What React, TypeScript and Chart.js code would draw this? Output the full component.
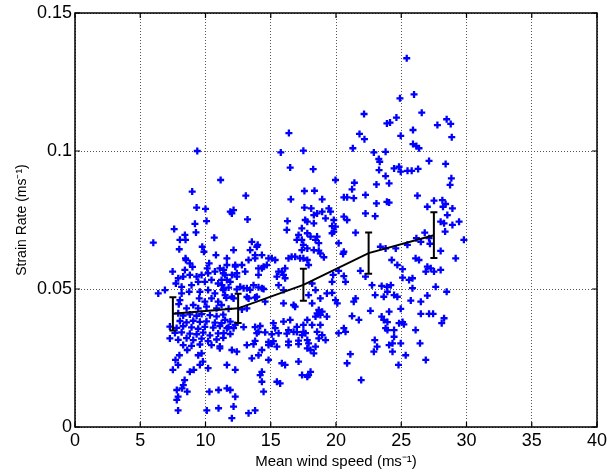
import React, { useEffect, useRef } from "react";
import { Chart, registerables } from "chart.js";

Chart.register(...registerables);

// Axis tick labels
const xTickLabels = ["0", "5", "10", "15", "20", "25", "30", "35", "40"];
const yTickLabels = ["0", "0.05", "0.1", "0.15"];

// Binned mean strain rate with error bars
const binCenters = [7.5, 12.5, 17.5, 22.5, 27.5];
const binMeans = [0.041, 0.043, 0.0515, 0.063, 0.0695];
const binErrors = [0.006, 0.0053, 0.0058, 0.0075, 0.0083];

// Individual samples: [mean wind speed, strain rate]
const samplesLow: [number, number][] = [
  [9.37, 0.1], [11.16, 0.0895], [8.98, 0.0853], [9.32, 0.0795], [10.0, 0.079], [9.19, 0.0736],
  [10.08, 0.0746], [7.6, 0.0717], [8.42, 0.0696], [9.27, 0.0705], [8.04, 0.0678], [8.47, 0.0678],
  [6.0, 0.0668], [10.67, 0.0686], [7.99, 0.0644], [9.75, 0.0653], [9.88, 0.0635], [8.47, 0.0611],
  [10.8, 0.0623], [8.5, 0.0605], [8.8, 0.0593], [9.0, 0.058], [10.28, 0.0593], [10.13, 0.0575],
  [8.42, 0.0569], [7.48, 0.0563], [7.91, 0.0539], [8.29, 0.0545], [8.8, 0.0551], [9.32, 0.0545],
  [9.7, 0.0551], [10.2, 0.0557], [10.72, 0.0563], [11.1, 0.0575], [11.36, 0.0557], [7.73, 0.052],
  [8.17, 0.0508], [8.93, 0.0514], [9.44, 0.0526], [9.95, 0.0526], [10.46, 0.0533], [10.97, 0.052],
  [11.23, 0.0533], [6.38, 0.0484], [6.89, 0.0496], [8.75, 0.049], [8.17, 0.0484], [9.57, 0.049],
  [10.2, 0.0496], [10.72, 0.0484], [11.36, 0.0496], [8.04, 0.046], [7.95, 0.0445], [9.52, 0.0466],
  [9.95, 0.0454], [10.46, 0.0466], [10.97, 0.0454], [9.06, 0.0442], [9.44, 0.043], [8.55, 0.043],
  [10.08, 0.0436], [10.85, 0.043], [11.23, 0.0442], [7.91, 0.0412],
  [8.29, 0.0404], [8.8, 0.0408], [9.32, 0.0403], [9.7, 0.0409], [10.34, 0.0405], [10.85, 0.0401], [11.36, 0.0407],
  [8.04, 0.0384], [8.55, 0.0379], [9.06, 0.0385], [9.57, 0.0381], [10.08, 0.0383], [10.72, 0.0378], [11.23, 0.0376],
  [7.27, 0.0364], [7.79, 0.0359], [8.29, 0.0365], [8.93, 0.0361], [9.44, 0.0356], [9.95, 0.0363], [10.59, 0.036], [11.1, 0.0366],
  [7.66, 0.0341], [8.17, 0.0343], [8.8, 0.0338], [9.32, 0.0336], [9.82, 0.0342], [10.34, 0.0332], [10.97, 0.0339],
  [7.27, 0.0321], [7.91, 0.0316], [8.55, 0.0322], [9.06, 0.0315], [9.7, 0.032], [10.2, 0.0311], [10.85, 0.0317], [11.36, 0.0323],
  [8.29, 0.0297], [8.93, 0.0294], [9.57, 0.0299], [10.46, 0.0297], [11.1, 0.0292],
  [8.6, 0.0279], [8.0, 0.026], [7.7, 0.0243], [7.9, 0.0225], [7.5, 0.0207], [8.8, 0.02],
  [9.1, 0.0207], [9.7, 0.0267], [9.8, 0.0237], [10.2, 0.0213], [8.4, 0.017], [8.3, 0.0152],
  [7.8, 0.0134], [8.2, 0.014], [8.6, 0.0128], [7.8, 0.0098], [7.9, 0.011], [10.3, 0.0128],
  [11.0, 0.0134], [11.0, 0.0068], [7.9, 0.006], [10.1, 0.006], [11.1, 0.0285], [9.44, 0.026],
  [9.57, 0.0225],
];

const samplesMid: [number, number][] = [
  [11.64, 0.0611], [12.28, 0.0587], [12.79, 0.0587], [13.3, 0.0605], [13.8, 0.0611], [14.32, 0.0575],
  [14.7, 0.0587], [14.06, 0.0551], [15.34, 0.0605], [15.85, 0.0563], [16.1, 0.0539], [16.36, 0.0611],
  [16.87, 0.0617], [17.5, 0.0611], [11.5, 0.0551], [11.9, 0.0526], [12.4, 0.0545], [12.66, 0.0508],
  [13.17, 0.0503], [13.68, 0.0514], [14.32, 0.0503], [15.6, 0.0514], [15.98, 0.0496], [11.5, 0.0478],
  [12.15, 0.0466], [13.3, 0.0466], [13.93, 0.0472], [14.57, 0.0454], [15.98, 0.0448], [16.87, 0.0436],
  [11.77, 0.0362], [12.15, 0.0358], [12.92, 0.0362], [13.8, 0.0362], [14.19, 0.0366], [15.2, 0.0376],
  [15.98, 0.0382], [16.49, 0.0388], [17.0, 0.0363], [17.5, 0.037], [11.39, 0.034], [11.9, 0.0337],
  [13.93, 0.034], [14.57, 0.0343], [15.08, 0.0336], [15.6, 0.034], [16.23, 0.0338], [17.0, 0.0344],
  [17.4, 0.0333], [13.17, 0.0297], [13.68, 0.03], [14.32, 0.0279], [14.83, 0.0297], [15.08, 0.0302],
  [15.47, 0.0291], [16.36, 0.0297], [17.13, 0.03], [12.02, 0.0279], [12.4, 0.0273], [11.64, 0.0225],
  [12.28, 0.0207], [13.55, 0.0249], [14.06, 0.026], [14.83, 0.0243], [15.85, 0.0231], [16.1, 0.0225],
  [17.13, 0.0237], [14.32, 0.02], [14.19, 0.0188], [15.47, 0.0164], [15.72, 0.0158], [14.32, 0.0164],
  [11.64, 0.014], [11.9, 0.0134], [12.28, 0.011], [14.45, 0.0128], [12.15, 0.0074], [13.3, 0.005],
  [13.8, 0.006], [12.02, 0.0032], [17.4, 0.0188],
  [16.23, 0.0714], [17.38, 0.072], [17.13, 0.0696], [17.38, 0.0678], [17.0, 0.0678], [17.5, 0.066],
  [17.38, 0.0641], [13.55, 0.0671], [13.93, 0.0653], [13.42, 0.0641], [12.15, 0.0641], [13.8, 0.0623],
  [14.32, 0.0623], [15.08, 0.0611], [11.64, 0.0587], [11.39, 0.0569], [12.02, 0.0551], [11.64, 0.0533],
  [11.26, 0.0514], [12.28, 0.0581], [13.04, 0.0563], [12.4, 0.0557], [14.06, 0.0575], [14.45, 0.0581],
  [15.6, 0.0563], [16.1, 0.0575], [15.98, 0.0551], [15.47, 0.0545],
  [11.39, 0.0501], [11.77, 0.0505], [12.4, 0.0499], [12.92, 0.0503], [13.42, 0.0497], [14.06, 0.0506], [14.45, 0.05],
  [11.6, 0.0468], [12.02, 0.0472], [13.17, 0.0471], [13.8, 0.0469], [16.75, 0.0442],
  [11.77, 0.0428], [12.79, 0.0426], [13.17, 0.043], [11.5, 0.0388], [11.9, 0.0382], [12.28, 0.037],
  [11.64, 0.0358], [14.06, 0.0345], [15.34, 0.0358], [16.36, 0.0351], [16.75, 0.0345], [17.5, 0.0345],
  [13.8, 0.0312], [14.83, 0.0308], [15.2, 0.0311], [16.36, 0.0309], [17.13, 0.0313],
  [15.77, 0.0995], [17.5, 0.1001], [16.49, 0.094], [17.58, 0.0855], [13.09, 0.0838], [16.54, 0.0825],
  [17.58, 0.0795], [11.9, 0.078], [12.15, 0.0786], [12.02, 0.0774], [13.22, 0.0752], [16.28, 0.0746],
  [17.64, 0.075], [14.0, 0.066], [14.83, 0.0611], [16.6, 0.0617], [17.25, 0.0611], [16.39, 0.1065],
];

const samplesHigh: [number, number][] = [
  [22.15, 0.1134], [23.9, 0.11], [21.8, 0.1062], [22.18, 0.1043], [21.29, 0.101], [22.9, 0.0995],
  [23.8, 0.0997], [23.28, 0.0971], [23.35, 0.0961], [18.25, 0.0934], [23.3, 0.0931], [23.8, 0.0909],
  [19.96, 0.0895], [21.41, 0.0885], [21.23, 0.0861], [23.1, 0.0879], [18.35, 0.0856], [20.6, 0.0832],
  [20.85, 0.0832], [21.36, 0.0829], [22.26, 0.0841], [18.94, 0.0825], [23.1, 0.081], [23.9, 0.0816],
  [18.1, 0.0792], [19.45, 0.0792], [18.55, 0.0774], [18.94, 0.078], [18.3, 0.0768], [19.58, 0.078],
  [20.6, 0.0762], [20.85, 0.075], [22.26, 0.0774], [23.0, 0.0764], [19.2, 0.0756], [17.8, 0.0744],
  [18.3, 0.0738], [19.83, 0.075], [19.7, 0.0728], [19.96, 0.0726], [19.83, 0.0708], [19.7, 0.0702],
  [17.8, 0.0702], [18.05, 0.069], [18.55, 0.069], [18.43, 0.0678], [18.68, 0.0666], [20.2, 0.0666],
  [21.5, 0.0704], [20.6, 0.0635], [17.8, 0.0647], [18.3, 0.0641], [18.8, 0.0629], [23.4, 0.0653],
  [23.8, 0.0647],
  [18.68, 0.0639], [19.07, 0.0615], [20.54, 0.0627], [17.8, 0.0605], [17.9, 0.0587], [21.87, 0.0566],
  [22.26, 0.0545], [19.78, 0.0551], [20.2, 0.0566], [20.6, 0.0547], [20.73, 0.0526], [19.7, 0.0526],
  [18.17, 0.052], [18.43, 0.0496], [22.76, 0.0514], [23.5, 0.0511], [23.9, 0.0508], [23.0, 0.0478],
  [23.66, 0.0472], [19.3, 0.0484], [19.7, 0.0486], [17.9, 0.0478], [18.8, 0.0466], [19.96, 0.046],
  [20.1, 0.0448], [18.17, 0.0448], [21.5, 0.0466], [21.36, 0.0454], [18.68, 0.0424], [18.55, 0.0412],
  [18.8, 0.0406], [18.43, 0.04], [18.94, 0.0418], [19.3, 0.04], [17.8, 0.0388], [22.64, 0.0421],
  [21.23, 0.0402], [21.75, 0.0388], [23.5, 0.04], [23.66, 0.0388], [23.8, 0.0358], [18.17, 0.037],
  [18.8, 0.037], [20.6, 0.0358], [20.73, 0.0345], [20.2, 0.034], [18.55, 0.0345], [18.94, 0.0333],
  [18.68, 0.0321], [19.2, 0.0315], [17.66, 0.034], [17.8, 0.0315], [17.9, 0.0303], [22.97, 0.0315],
  [23.15, 0.0291], [22.9, 0.0273], [18.05, 0.0279], [18.3, 0.0267], [17.8, 0.0285], [18.43, 0.0291],
  [21.1, 0.0264], [20.85, 0.0231], [18.05, 0.02], [17.9, 0.0188], [17.8, 0.0182], [21.93, 0.017],
];

const samplesTop: [number, number][] = [
  [25.42, 0.1336], [24.9, 0.1191], [25.98, 0.1205], [26.57, 0.1139], [24.63, 0.1121], [24.14, 0.1103],
  [28.48, 0.1115], [28.79, 0.1098], [27.77, 0.1094], [25.9, 0.1076], [24.96, 0.1055], [28.87, 0.105],
  [25.9, 0.1025], [26.16, 0.1018], [26.36, 0.101], [27.13, 0.0964], [28.4, 0.0953], [24.45, 0.0937],
  [24.83, 0.0943], [24.96, 0.0925], [25.48, 0.0928], [25.8, 0.0928], [26.29, 0.0935], [28.84, 0.0901],
  [28.74, 0.0877], [24.07, 0.0883], [24.07, 0.0813], [26.24, 0.0838], [27.51, 0.082], [28.15, 0.0822],
  [27.0, 0.0798], [28.4, 0.0808], [28.2, 0.0798], [28.92, 0.0792], [28.53, 0.0768], [28.02, 0.0744],
  [28.28, 0.0738], [28.92, 0.0732], [29.43, 0.0744], [26.8, 0.0704], [28.36, 0.0708], [26.16, 0.0684],
  [29.8, 0.0678],
  [27.13, 0.0684], [26.5, 0.0671], [27.2, 0.0664], [24.58, 0.0647], [25.47, 0.066], [28.02, 0.0638],
  [29.17, 0.0611], [24.27, 0.0605], [24.7, 0.0587], [25.1, 0.0572], [26.1, 0.0611], [26.36, 0.0605],
  [27.0, 0.0581], [27.26, 0.0575], [26.88, 0.0563], [27.51, 0.0563], [28.02, 0.0569], [25.1, 0.0541],
  [25.6, 0.0533], [25.86, 0.0539], [24.2, 0.0514], [23.94, 0.049], [24.45, 0.0478], [24.7, 0.0472],
  [25.86, 0.0503], [27.64, 0.0508], [28.48, 0.049], [27.0, 0.0476], [26.5, 0.0454], [25.73, 0.0458],
  [24.07, 0.0418], [24.96, 0.0428], [26.5, 0.041], [27.13, 0.041], [27.44, 0.041], [28.28, 0.0394],
  [28.1, 0.0376], [23.94, 0.038], [24.83, 0.0376], [25.1, 0.038], [25.2, 0.0372], [23.94, 0.0351],
  [24.45, 0.0351], [26.1, 0.0351], [24.45, 0.0327], [24.33, 0.0303], [24.96, 0.0303], [26.44, 0.0303],
  [24.07, 0.0297], [24.33, 0.0273], [25.34, 0.026], [26.88, 0.0243], [24.79, 0.0225],
];

const FONT = "'Liberation Sans', Arial, Helvetica, sans-serif";

export default function App() {
  const canvasRef = useRef<HTMLCanvasElement | null>(null);

  useEffect(() => {
    const canvas = canvasRef.current;
    if (!canvas) return;

    const scatterData = [...samplesLow, ...samplesMid, ...samplesHigh, ...samplesTop].map(([x, y]) => ({ x, y }));
    const meanData = binCenters.map((x, i) => ({ x, y: binMeans[i] }));

    const errorBarPlugin = {
      id: "errorBars",
      afterDatasetsDraw(chart: any) {
        const { ctx } = chart;
        const xs = chart.scales.x;
        const ys = chart.scales.y;
        ctx.save();
        ctx.strokeStyle = "#000";
        ctx.lineWidth = 2;
        binCenters.forEach((c, i) => {
          const px = xs.getPixelForValue(c);
          const top = ys.getPixelForValue(binMeans[i] + binErrors[i]);
          const bot = ys.getPixelForValue(binMeans[i] - binErrors[i]);
          ctx.beginPath();
          ctx.moveTo(px, top);
          ctx.lineTo(px, bot);
          ctx.moveTo(px - 3.5, top);
          ctx.lineTo(px + 3.5, top);
          ctx.moveTo(px - 3.5, bot);
          ctx.lineTo(px + 3.5, bot);
          ctx.stroke();
        });
        ctx.restore();
      },
    };

    const framePlugin = {
      id: "matlabFrame",
      afterDraw(chart: any) {
        const { ctx, chartArea } = chart;
        const { left, right, top, bottom } = chartArea;
        const xs = chart.scales.x;
        const ys = chart.scales.y;
        const len = 5;
        ctx.save();
        ctx.strokeStyle = "#000";
        ctx.lineWidth = 1.5;
        ctx.strokeRect(left, top, right - left, bottom - top);
        ctx.lineWidth = 1.2;
        ctx.beginPath();
        xs.ticks.forEach((t: any) => {
          const p = xs.getPixelForValue(t.value);
          ctx.moveTo(p, bottom);
          ctx.lineTo(p, bottom - len);
          ctx.moveTo(p, top);
          ctx.lineTo(p, top + len);
        });
        ys.ticks.forEach((t: any) => {
          const p = ys.getPixelForValue(t.value);
          ctx.moveTo(left, p);
          ctx.lineTo(left + len, p);
          ctx.moveTo(right, p);
          ctx.lineTo(right - len, p);
        });
        ctx.stroke();
        ctx.restore();
      },
    };

    const chart = new Chart(canvas, {
      type: "scatter",
      data: {
        datasets: [
          {
            type: "line",
            data: meanData,
            borderColor: "#000",
            borderWidth: 2,
            pointRadius: 0,
            fill: false,
            tension: 0,
          } as any,
          {
            data: scatterData,
            pointStyle: "cross",
            pointRadius: 3.5,
            pointBorderWidth: 2.3,
            borderColor: "#0000ff",
            backgroundColor: "#0000ff",
          } as any,
        ],
      },
      options: {
        animation: false,
        responsive: false,
        maintainAspectRatio: false,
        layout: { padding: { top: 13, right: 10, left: 0, bottom: 0 } },
        plugins: {
          legend: { display: false },
          tooltip: { enabled: false },
        },
        scales: {
          x: {
            type: "linear",
            min: 0,
            max: 40,
            ticks: {
              stepSize: 5,
              color: "#000",
              padding: 3,
              maxRotation: 0,
              font: { family: FONT, size: 18 },
              callback: (_v: any, i: number) => xTickLabels[i],
            },
            grid: { color: "#555", lineWidth: 1, drawTicks: false },
            border: { display: false, dash: [1, 2] },
            title: {
              display: true,
              text: "Mean wind speed (ms\u207B\u00B9)",
              color: "#000",
              font: { family: FONT, size: 15 },
              padding: { top: 0, bottom: 4 },
            },
            afterFit: (s: any) => {
              s.height = 48;
              s.paddingLeft = 0;
              s.paddingRight = 0;
            },
          } as any,
          y: {
            type: "linear",
            min: 0,
            max: 0.15,
            ticks: {
              stepSize: 0.05,
              color: "#000",
              padding: 3,
              font: { family: FONT, size: 18 },
              callback: (_v: any, i: number) => yTickLabels[i],
            },
            grid: { color: "#555", lineWidth: 1, drawTicks: false },
            border: { display: false, dash: [1, 2] },
            title: {
              display: true,
              text: "Strain Rate (ms\u207B\u00B9)",
              color: "#000",
              font: { family: FONT, size: 14 },
              padding: { top: 14, bottom: 0 },
            },
            afterFit: (s: any) => {
              s.width = 75;
              s.paddingTop = 0;
              s.paddingBottom = 0;
            },
          } as any,
        },
      },
      plugins: [errorBarPlugin, framePlugin],
    });

    return () => chart.destroy();
  }, []);

  return (
    <div style={{ position: "fixed", left: 0, top: 0, width: 607, height: 475, background: "#fff" }}>
      <canvas ref={canvasRef} width={607} height={475} style={{ display: "block" }} />
    </div>
  );
}
